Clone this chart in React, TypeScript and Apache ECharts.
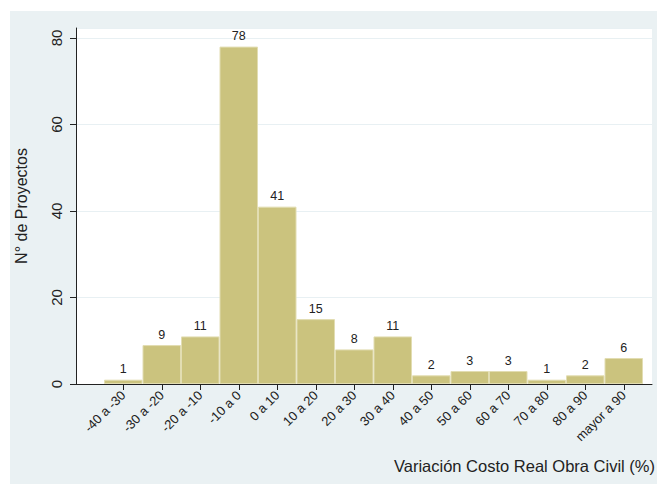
import React, { useEffect, useRef } from "react";
import * as echarts from "echarts";

const categories = [
  "-40 a -30", "-30 a -20", "-20 a -10", "-10 a 0", "0 a 10", "10 a 20", "20 a 30",
  "30 a 40", "40 a 50", "50 a 60", "60 a 70", "70 a 80", "80 a 90", "mayor a 90",
];
const counts = [1, 9, 11, 78, 41, 15, 8, 11, 2, 3, 3, 1, 2, 6];
const yTicks = { min: 0, max: 82.3, interval: 20 };
const yTitle = "N° de Proyectos";
const xTitle = "Variación Costo Real Obra Civil (%)";

const FONT = "Liberation Sans, Arial, sans-serif";

export default function App() {
  const ref = useRef<HTMLDivElement>(null);
  useEffect(() => {
    document.body.style.margin = "0";
    if (!ref.current) return;
    const chart = echarts.init(ref.current, null, { renderer: "svg" });
    chart.setOption({
      animation: false,
      backgroundColor: "#ffffff",
      textStyle: { fontFamily: FONT },
      graphic: [
        {
          type: "rect",
          z: -10,
          silent: true,
          shape: { x: 10, y: 11, width: 647, height: 473 },
          style: { fill: "#eaf1f3" },
        },
        {
          type: "text",
          right: 2,
          top: 457,
          style: { text: xTitle, font: `16.5px ${FONT}`, fill: "#222", textAlign: "right" },
        },
      ],
      grid: [
        { left: 104, right: 14, top: 28, bottom: 100, containLabel: false },
        {
          left: 76, right: 5, top: 28, bottom: 100, containLabel: false,
          show: true, backgroundColor: "#ffffff", borderWidth: 0,
        },
      ],
      xAxis: [
        {
          type: "category",
          gridIndex: 0,
          data: categories,
          axisLine: { show: false },
          axisTick: { show: true, alignWithLabel: true, length: 6, lineStyle: { color: "#222" } },
          axisLabel: {
            rotate: 45, margin: 9, fontSize: 13, color: "#222", fontFamily: FONT, interval: 0,
          },
        },
        {
          type: "value",
          gridIndex: 1,
          min: 0,
          max: 1,
          axisLine: { show: true, onZero: false, lineStyle: { color: "#222" } },
          axisTick: { show: false },
          axisLabel: { show: false },
          splitLine: { show: false },
        },
      ],
      yAxis: [
        {
          type: "value",
          gridIndex: 0,
          min: yTicks.min,
          max: yTicks.max,
          interval: yTicks.interval,
          show: false,
          splitLine: { show: false },
        },
        {
          type: "value",
          gridIndex: 1,
          min: yTicks.min,
          max: yTicks.max,
          interval: yTicks.interval,
          name: yTitle,
          nameLocation: "middle",
          nameGap: 47,
          nameTextStyle: { fontSize: 16, color: "#222", fontFamily: FONT },
          axisLine: { show: true, lineStyle: { color: "#222" } },
          axisTick: { show: true, length: 6, lineStyle: { color: "#222" } },
          axisLabel: {
            rotate: 90, margin: 12, fontSize: 15, color: "#222", fontFamily: FONT,
            showMaxLabel: false,
            formatter: (v: number) => (v % 20 === 0 ? String(v) : ""),
          },
          splitLine: { show: true, lineStyle: { color: "#e8f0f3", width: 1 } },
        },
      ],
      series: [
        {
          type: "bar",
          xAxisIndex: 0,
          yAxisIndex: 0,
          data: counts,
          barWidth: "100%",
          barCategoryGap: 0,
          itemStyle: { color: "#cbc37e", borderColor: "#e2ddb2", borderWidth: 1 },
          label: {
            show: true, position: "top", distance: 4, fontSize: 12.5, color: "#222", fontFamily: FONT,
          },
          z: 3,
        },
      ],
    });
    return () => chart.dispose();
  }, []);
  return <div ref={ref} style={{ width: 657, height: 484 }} />;
}
